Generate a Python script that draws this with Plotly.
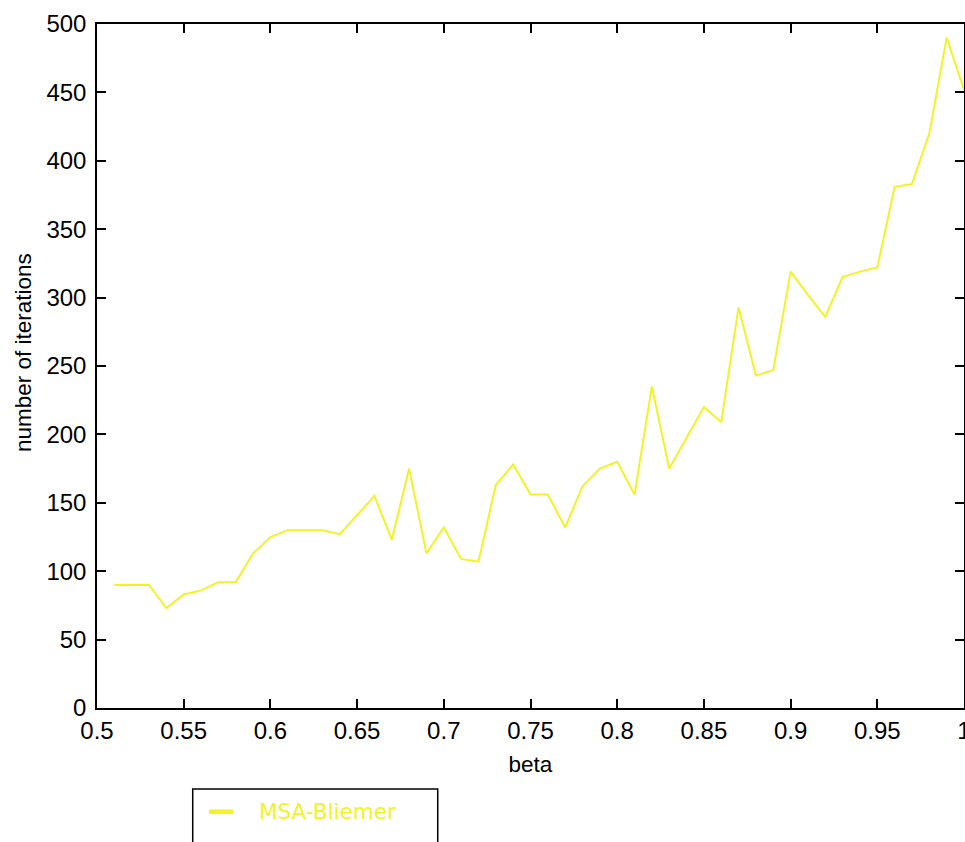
import plotly.graph_objects as go

# beta values and number of iterations for the MSA-Bliemer run
beta = [0.51, 0.52, 0.53, 0.54, 0.55, 0.56, 0.57, 0.58, 0.59, 0.60,
        0.61, 0.62, 0.63, 0.64, 0.65, 0.66, 0.67, 0.68, 0.69, 0.70,
        0.71, 0.72, 0.73, 0.74, 0.75, 0.76, 0.77, 0.78, 0.79, 0.80,
        0.81, 0.82, 0.83, 0.84, 0.85, 0.86, 0.87, 0.88, 0.89, 0.90,
        0.91, 0.92, 0.93, 0.94, 0.95, 0.96, 0.97, 0.98, 0.99, 1.00]
iterations = [90, 90, 90, 73, 83, 86, 92, 92, 113, 125,
              130, 130, 130, 127, 141, 155, 123, 175, 113, 132,
              109, 107, 163, 178, 156, 156, 132, 162, 175, 180,
              156, 235, 175, 198, 220, 209, 293, 243, 247, 319,
              302, 286, 315, 319, 322, 381, 383, 420, 490, 452]
series_name = "MSA-Bliemer"

x_ticks = [0.5, 0.55, 0.6, 0.65, 0.7, 0.75, 0.8, 0.85, 0.9, 0.95, 1.0]
x_ticktext = ["0.5", "0.55", "0.6", "0.65", "0.7", "0.75", "0.8", "0.85", "0.9", "0.95", "1"]
y_ticks = [0, 50, 100, 150, 200, 250, 300, 350, 400, 450, 500]

YELLOW = "rgb(242,242,40)"
FONT = dict(family="Liberation Sans, Arial, sans-serif", size=24, color="black")
TITLE_FONT = dict(family="Liberation Sans, Arial, sans-serif", size=22.5, color="black")

fig = go.Figure()
fig.add_trace(go.Scatter(x=beta, y=iterations, mode="lines", name=series_name,
                         line=dict(color=YELLOW, width=2), showlegend=False))

axis_common = dict(showline=True, linecolor="black", linewidth=1.5, mirror="ticks",
                   ticks="inside", ticklen=9, tickwidth=1.5, tickcolor="black",
                   showgrid=False, zeroline=False, tickfont=FONT,
                   ticklabeloverflow="allow")

fig.update_xaxes(range=[0.5, 1.0], tickmode="array", tickvals=x_ticks, ticktext=x_ticktext,
                 title=dict(text="beta", font=TITLE_FONT, standoff=14), **axis_common)
fig.update_yaxes(range=[0, 500], tickmode="array", tickvals=y_ticks,
                 ticklabelstandoff=4, **axis_common)

# y-axis title
fig.add_annotation(text="number of iterations", xref="paper", yref="paper",
                   x=-0.0853, y=0.519, textangle=-90, showarrow=False,
                   xanchor="center", yanchor="middle", font=TITLE_FONT)

# legend box drawn below the axes
fig.add_shape(type="rect", xref="paper", yref="paper",
              x0=0.1104, x1=0.393, y0=-0.26, y1=-0.1184,
              line=dict(color="black", width=1.5), fillcolor="white", layer="above")
fig.add_shape(type="line", xref="paper", yref="paper",
              x0=0.1292, x1=0.1569, y0=-0.1516, y1=-0.1516,
              line=dict(color=YELLOW, width=4.5))
fig.add_annotation(text=series_name, xref="paper", yref="paper",
                   x=0.1845, y=-0.1516, xanchor="left", yanchor="middle",
                   showarrow=False,
                   font=dict(family="DejaVu Sans, Verdana, sans-serif", size=21.5, color=YELLOW))

fig.update_layout(width=965, height=842,
                  margin=dict(l=97, r=1, t=24, b=134, autoexpand=False),
                  paper_bgcolor="white", plot_bgcolor="white")

fig.write_html("out.html")
